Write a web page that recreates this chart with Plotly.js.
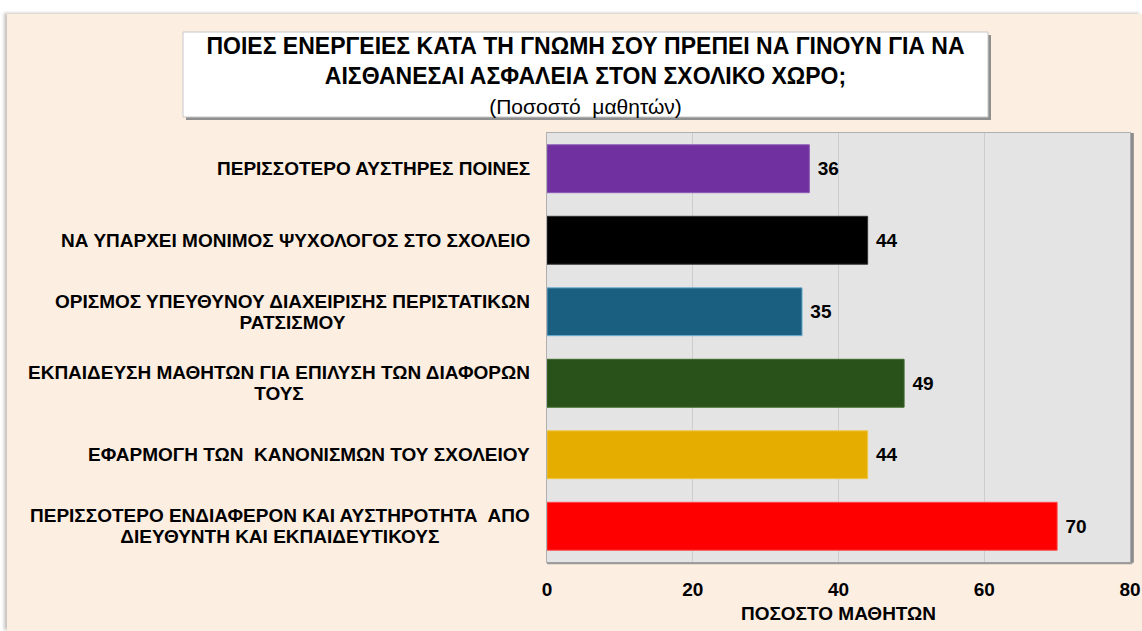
<!DOCTYPE html>
<html>
<head>
<meta charset="utf-8">
<script src="https://cdn.plot.ly/plotly-3.0.1.min.js"></script>
<style>
  html, body { margin: 0; padding: 0; background: #ffffff; width: 1142px; height: 631px; overflow: hidden; }
  #chart { position: absolute; left: 7px; top: 14px; width: 1135px; height: 617px;
           box-shadow: -3px -1px 3px #c8c4c0; }
</style>
</head>
<body>
<div id="chart"></div>
<script>
const categories = [
  "ΠΕΡΙΣΣΟΤΕΡΟ ΑΥΣΤΗΡΕΣ ΠΟΙΝΕΣ",
  "ΝΑ ΥΠΑΡΧΕΙ ΜΟΝΙΜΟΣ ΨΥΧΟΛΟΓΟΣ ΣΤΟ ΣΧΟΛΕΙΟ",
  "ΟΡΙΣΜΟΣ ΥΠΕΥΘΥΝΟΥ ΔΙΑΧΕΙΡΙΣΗΣ ΠΕΡΙΣΤΑΤΙΚΩΝ<br>ΡΑΤΣΙΣΜΟΥ",
  "ΕΚΠΑΙΔΕΥΣΗ ΜΑΘΗΤΩΝ ΓΙΑ ΕΠΙΛΥΣΗ ΤΩΝ ΔΙΑΦΟΡΩΝ<br>ΤΟΥΣ",
  "ΕΦΑΡΜΟΓΗ ΤΩΝ  ΚΑΝΟΝΙΣΜΩΝ ΤΟΥ ΣΧΟΛΕΙΟΥ",
  "ΠΕΡΙΣΣΟΤΕΡΟ ΕΝΔΙΑΦΕΡΟΝ ΚΑΙ ΑΥΣΤΗΡΟΤΗΤΑ  ΑΠΟ<br>ΔΙΕΥΘΥΝΤΗ ΚΑΙ ΕΚΠΑΙΔΕΥΤΙΚΟΥΣ"
];
const values = [36, 44, 35, 49, 44, 70];
const barColors = ["#7030A0", "#000000", "#1A5F80", "#29521A", "#E5AD00", "#FF0000"];
const barEdges = ["#8a5ab5", "#333333", "#6fb0cf", "#3d6a2b", "#f0c64a", "#ff4a4a"];
const xTicks = [0, 20, 40, 60, 80];

const titleText = "<b>ΠΟΙΕΣ ΕΝΕΡΓΕΙΕΣ ΚΑΤΑ ΤΗ ΓΝΩΜΗ ΣΟΥ ΠΡΕΠΕΙ ΝΑ ΓΙΝΟΥΝ ΓΙΑ ΝΑ<br>ΑΙΣΘΑΝΕΣΑΙ ΑΣΦΑΛΕΙΑ ΣΤΟΝ ΣΧΟΛΙΚΟ ΧΩΡΟ;</b><br><span style=\"font-size:21px\">(Ποσοστό  μαθητών)</span>";
const xTitle = "ΠΟΣΟΣΤΟ ΜΑΘΗΤΩΝ";

const FONT = "Liberation Sans, Arial, sans-serif";

const trace = {
  type: "bar",
  orientation: "h",
  y: categories,
  x: values,
  text: values.map(v => "<b>\u00a0" + v + "</b>"),
  textposition: "outside",
  cliponaxis: false,
  textfont: { family: FONT, size: 19, color: "#000000" },
  marker: { color: barColors, line: { color: barEdges, width: 1 } },
  hoverinfo: "x+y"
};

// category labels: right-anchored block, lines centred; base font size 16 sets a tighter line spacing
const annotations = categories.map(c => ({
  xref: "paper", yref: "y",
  x: 0, y: c,
  xanchor: "right", yanchor: "middle",
  xshift: -15,
  align: "center",
  text: c.split("<br>").map(ln => "<b><span style=\"font-size:19px\">" + ln + "</span></b>").join("<br>"),
  showarrow: false,
  font: { family: FONT, size: 16, color: "#000000" }
}));

// geometry of plot area: l=540, r=12, t=119, b=69 => width 583, height 429
const W = 583, H = 429, L = 540, T = 119;
function px(x) { return (x - L) / W; }
function py(y) { return (T + H - y) / H; }

const shapes = [
  { type: "rect", xref: "paper", yref: "paper", layer: "above",
    x0: px(179), x1: px(984), y0: py(21), y1: py(106),
    fillcolor: "#8f8f8f", line: { width: 0 } },
  { type: "rect", xref: "paper", yref: "paper", layer: "above",
    x0: px(176), x1: px(981), y0: py(18), y1: py(103),
    fillcolor: "#ffffff", line: { color: "#c8c8c8", width: 1 } },
  { type: "line", xref: "paper", yref: "paper", layer: "above",
    x0: 1.004, x1: 1.004, y0: -0.002, y1: 1.0, line: { color: "#8c8c8c", width: 3 } },
  { type: "line", xref: "paper", yref: "paper", layer: "above",
    x0: 0, x1: 1.004, y0: -0.003, y1: -0.003, line: { color: "#9a9a9a", width: 2 } }
];

const layout = {
  width: 1135, height: 617,
  paper_bgcolor: "#FDEEE2",
  plot_bgcolor: "#E4E4E4",
  margin: { l: 540, r: 12, t: 119, b: 69, pad: 0 },
  showlegend: false,
  bargap: 0.33,
  title: {
    text: titleText,
    xref: "container", yref: "container",
    x: 578.5 / 1135, y: 1 - 40 / 617,
    xanchor: "center", yanchor: "top",
    font: { family: FONT, size: 23, color: "#000000" }
  },
  xaxis: {
    range: [0, 80],
    tickvals: xTicks,
    ticktext: xTicks.map(v => "<b>" + v + "</b>"),
    showgrid: true, gridcolor: "#CDCDCD", gridwidth: 1,
    zeroline: false,
    showline: true, linecolor: "#B0B0B0", linewidth: 1, mirror: true,
    ticks: "", ticklabelstandoff: 10,
    tickfont: { family: FONT, size: 19, color: "#000000" },
    title: { text: "<b>" + xTitle + "</b>", standoff: 7,
             font: { family: FONT, size: 19, color: "#000000" } },
    fixedrange: true
  },
  yaxis: {
    type: "category",
    autorange: "reversed",
    showticklabels: false,
    showgrid: false, zeroline: false,
    showline: true, linecolor: "#B0B0B0", linewidth: 1, mirror: true,
    ticks: "",
    fixedrange: true
  },
  annotations: annotations,
  shapes: shapes
};

Plotly.newPlot("chart", [trace], layout, { displayModeBar: false, staticPlot: true });
</script>
</body>
</html>
